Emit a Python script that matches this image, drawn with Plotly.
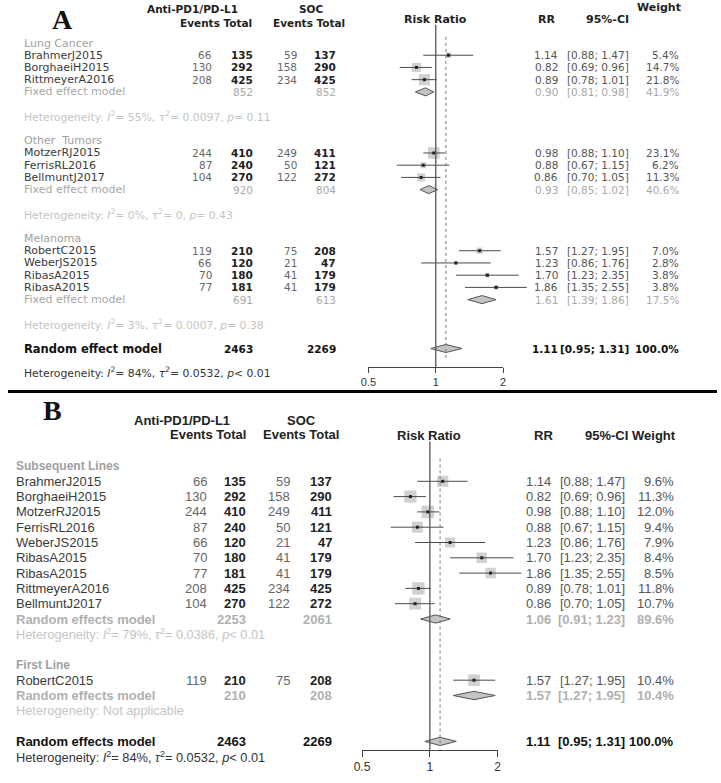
import math
import plotly.graph_objects as go

W, H = 721, 783

# ---------------- Panel A data ----------------
groupsA = ["Lung Cancer", "Other  Tumors", "Melanoma"]
studiesA = [["BrahmerJ2015", "BorghaeiH2015", "RittmeyerA2016"],
            ["MotzerRJ2015", "FerrisRL2016", "BellmuntJ2017"],
            ["RobertC2015", "WeberJS2015", "RibasA2015", "RibasA2015"]]
evTA = [[66, 130, 208], [244, 87, 104], [119, 66, 70, 77]]
totTA = [[135, 292, 425], [410, 240, 270], [210, 120, 180, 181]]
evCA = [[59, 158, 234], [249, 50, 122], [75, 21, 41, 41]]
totCA = [[137, 290, 425], [411, 121, 272], [208, 47, 179, 179]]
rrA = [[1.14, 0.82, 0.89], [0.98, 0.88, 0.86], [1.57, 1.23, 1.70, 1.86]]
loA = [[0.88, 0.69, 0.78], [0.88, 0.67, 0.70], [1.27, 0.86, 1.23, 1.35]]
hiA = [[1.47, 0.96, 1.01], [1.10, 1.15, 1.05], [1.95, 1.76, 2.35, 2.55]]
wA = [[5.4, 14.7, 21.8], [23.1, 6.2, 11.3], [7.0, 2.8, 3.8, 3.8]]
subRRA = [0.90, 0.93, 1.61]
subLoA = [0.81, 0.85, 1.39]
subHiA = [0.98, 1.02, 1.86]
subWA = [41.9, 40.6, 17.5]
subTotTA = [852, 920, 691]
subTotCA = [852, 804, 613]
subI2A = ["55%", "0%", "3%"]
subTau2A = ["0.0097", "0", "0.0007"]
subPA = ["= 0.11", "= 0.43", "= 0.38"]
overallA = dict(label="Random effect model", rr=1.11, lo=0.95, hi=1.31, w=100.0,
                totT=2463, totC=2269, i2="84%", tau2="0.0532", p="< 0.01")

# ---------------- Panel B data ----------------
groupsB = ["Subsequent Lines", "First Line"]
studiesB = [["BrahmerJ2015", "BorghaeiH2015", "MotzerRJ2015", "FerrisRL2016", "WeberJS2015",
             "RibasA2015", "RibasA2015", "RittmeyerA2016", "BellmuntJ2017"],
            ["RobertC2015"]]
evTB = [[66, 130, 244, 87, 66, 70, 77, 208, 104], [119]]
totTB = [[135, 292, 410, 240, 120, 180, 181, 425, 270], [210]]
evCB = [[59, 158, 249, 50, 21, 41, 41, 234, 122], [75]]
totCB = [[137, 290, 411, 121, 47, 179, 179, 425, 272], [208]]
rrB = [[1.14, 0.82, 0.98, 0.88, 1.23, 1.70, 1.86, 0.89, 0.86], [1.57]]
loB = [[0.88, 0.69, 0.88, 0.67, 0.86, 1.23, 1.35, 0.78, 0.70], [1.27]]
hiB = [[1.47, 0.96, 1.10, 1.15, 1.76, 2.35, 2.55, 1.01, 1.05], [1.95]]
wB = [[9.6, 11.3, 12.0, 9.4, 7.9, 8.4, 8.5, 11.8, 10.7], [10.4]]
subRRB = [1.06, 1.57]
subLoB = [0.91, 1.27]
subHiB = [1.23, 1.95]
subWB = [89.6, 10.4]
subTotTB = [2253, 210]
subTotCB = [2061, 208]
subHetB = ["Heterogeneity: <i>I</i><sup>2</sup>= 79%, <i>τ</i><sup>2</sup>= 0.0386, <i>p</i>< 0.01",
           "Heterogeneity: Not applicable"]
overallB = dict(label="Random effects model", rr=1.11, lo=0.95, hi=1.31, w=100.0,
                totT=2463, totC=2269, i2="84%", tau2="0.0532", p="< 0.01")

tick_vals = [0.5, 1, 2]
tick_text = ["0.5", "1", "2"]

# ---------------- layout geometry ----------------
SANS = "Liberation Sans, Arial, sans-serif"
WIDE = "DejaVu Sans, sans-serif"
SERIF = "Liberation Serif, Times New Roman, serif"

A = dict(top=43, step=12.22, one=435.0, ppd=227.6, axis_y=367, xref="x", yref="y",
         axref="x3", name_x=15, evT=208, totT=250, evC=295, totC=335,
         rr=560, ci=633, wt=683, name_size=11, num_size=10.5, k=2.4, dh=0.33,
         name_fam=WIDE, num_fam=WIDE, grp_size=11, grp_fam=WIDE, mod_size=11,
         mod_fam=WIDE, het_size=10.8, het_fam=WIDE, ov_size=11.5)
B = dict(top=466, step=15.3, one=429.0, ppd=229.2, axis_y=750, xref="x2", yref="y2",
         axref="x4", name_x=7, evT=203, totT=243, evC=288, totC=330,
         rr=553, ci=628, wt=678, name_size=13, num_size=13, k=3.6, dh=0.27,
         name_fam=SANS, num_fam=SANS, grp_size=12, grp_fam=SANS, mod_size=13,
         mod_fam=SANS, het_size=12.8, het_fam=SANS, ov_size=13)

fig = go.Figure()


def txt(x, y, yref, s, anchor="left", size=11, color="#333", family=SANS, bold=False):
    if bold:
        s = "<b>" + s + "</b>"
    fig.add_annotation(x=x / W, xref="paper", y=y, yref=yref, text=s, xanchor=anchor,
                       yanchor="middle", showarrow=False, borderpad=0,
                       font=dict(size=size, color=color, family=family))


def ci_str(lo, hi):
    return "[%.2f; %.2f]" % (lo, hi)


def diamond(P, row, rr, lo, hi, fill="#c4c4c4"):
    fig.add_trace(go.Scatter(x=[lo, rr, hi, rr, lo], y=[row, row - P["dh"], row, row + P["dh"], row],
                             xaxis=P["xref"], yaxis=P["yref"], mode="lines", fill="toself",
                             fillcolor=fill, line=dict(color="#555", width=1),
                             hoverinfo="skip", showlegend=False))


def studies(P, rows, rr, lo, hi, w):
    fig.add_trace(go.Scatter(x=rr, y=rows, xaxis=P["xref"], yaxis=P["yref"], mode="markers",
                             marker=dict(symbol="square", size=[P["k"] * math.sqrt(v) for v in w],
                                         color="#bdbdbd", line=dict(width=0)),
                             hoverinfo="skip", showlegend=False))
    xs, ys = [], []
    for r, a, b in zip(rows, lo, hi):
        xs += [a, b, None]
        ys += [r, r, None]
    fig.add_trace(go.Scatter(x=xs, y=ys, xaxis=P["xref"], yaxis=P["yref"], mode="lines",
                             line=dict(color="#4a4a4a", width=1), hoverinfo="skip", showlegend=False))
    fig.add_trace(go.Scatter(x=rr, y=rows, xaxis=P["xref"], yaxis=P["yref"], mode="markers",
                             marker=dict(symbol="square", size=3, color="#222"),
                             hoverinfo="skip", showlegend=False))


def row_text(P, row, name, evT, totT, evC, totC, rr, lo, hi, w):
    s, f, y, yr = P["num_size"], P["num_fam"], row, P["yref"]
    txt(P["name_x"], y, yr, name, size=P["name_size"], color="#3a3a3a", family=P["name_fam"])
    txt(P["evT"], y, yr, str(evT), "right", s, "#666", f)
    txt(P["totT"], y, yr, str(totT), "right", s, "#222", f, True)
    txt(P["evC"], y, yr, str(evC), "right", s, "#666", f)
    txt(P["totC"], y, yr, str(totC), "right", s, "#222", f, True)
    txt(P["rr"], y, yr, "%.2f" % rr, "right", s, "#555", f)
    txt(P["ci"], y, yr, ci_str(lo, hi), "right", s, "#555", f)
    txt(P["wt"], y, yr, "%.1f%%" % w, "right", s, "#555", f)


def model_text(P, row, label, totT, totC, rr, lo, hi, w, color, bold, lsize):
    s, f, y, yr = P["num_size"], P["num_fam"], row, P["yref"]
    txt(P["name_x"], y, yr, label, size=lsize, color=color, family=P["mod_fam"], bold=bold)
    txt(P["totT"], y, yr, str(totT), "right", s, color, f, bold)
    txt(P["totC"], y, yr, str(totC), "right", s, color, f, bold)
    txt(P["rr"], y, yr, "%.2f" % rr, "right", s, color, f, bold)
    txt(P["ci"], y, yr, ci_str(lo, hi), "right", s, color, f, bold)
    txt(P["wt"], y, yr, "%.1f%%" % w, "right", s, color, f, bold)


def het(i2, tau2, p):
    return ("Heterogeneity: <i>I</i><sup>2</sup>= %s, <i>τ</i><sup>2</sup>= %s, <i>p</i>%s"
            % (i2, tau2, p))


# ---------------- Panel A ----------------
row = 0
for g in range(len(groupsA)):
    txt(A["name_x"], row, "y", groupsA[g], size=A["grp_size"], color="#a0a0a0", family=A["grp_fam"])
    rows = []
    for i in range(len(studiesA[g])):
        row += 1
        rows.append(row)
        row_text(A, row, studiesA[g][i], evTA[g][i], totTA[g][i], evCA[g][i], totCA[g][i],
                 rrA[g][i], loA[g][i], hiA[g][i], wA[g][i])
    studies(A, rows, rrA[g], loA[g], hiA[g], wA[g])
    row += 1
    model_text(A, row, "Fixed effect model", subTotTA[g], subTotCA[g], subRRA[g], subLoA[g],
               subHiA[g], subWA[g], "#a8a8a8", False, A["mod_size"])
    diamond(A, row, subRRA[g], subLoA[g], subHiA[g])
    row += 2
    txt(A["name_x"], row, "y", het(subI2A[g], subTau2A[g], subPA[g]), size=A["het_size"],
        color="#c4c4c4", family=A["het_fam"])
    row += 2
oA = overallA
model_text(A, row, oA["label"], oA["totT"], oA["totC"], oA["rr"], oA["lo"], oA["hi"], oA["w"],
           "#111", True, A["ov_size"])
diamond(A, row, oA["rr"], oA["lo"], oA["hi"])
last_rowA = row
row += 2
txt(A["name_x"], row, "y", het(oA["i2"], oA["tau2"], oA["p"]), size=A["het_size"], color="#333",
    family=A["het_fam"])

# ---------------- Panel B ----------------
row = 0
for g in range(len(groupsB)):
    txt(B["name_x"], row, "y2", groupsB[g], size=B["grp_size"], color="#a0a0a0", family=B["grp_fam"],
        bold=True)
    rows = []
    for i in range(len(studiesB[g])):
        row += 1
        rows.append(row)
        row_text(B, row, studiesB[g][i], evTB[g][i], totTB[g][i], evCB[g][i], totCB[g][i],
                 rrB[g][i], loB[g][i], hiB[g][i], wB[g][i])
    studies(B, rows, rrB[g], loB[g], hiB[g], wB[g])
    row += 1
    model_text(B, row, "Random effects model", subTotTB[g], subTotCB[g], subRRB[g], subLoB[g],
               subHiB[g], subWB[g], "#b0b0b0", True, B["mod_size"])
    diamond(B, row, subRRB[g], subLoB[g], subHiB[g])
    row += 1
    txt(B["name_x"], row, "y2", subHetB[g], size=B["het_size"], color="#c4c4c4", family=B["het_fam"])
    row += 2
oB = overallB
model_text(B, row, oB["label"], oB["totT"], oB["totC"], oB["rr"], oB["lo"], oB["hi"], oB["w"],
           "#111", True, B["ov_size"])
diamond(B, row, oB["rr"], oB["lo"], oB["hi"])
last_rowB = row
row += 1
txt(B["name_x"], row, "y2", het(oB["i2"], oB["tau2"], oB["p"]), size=B["het_size"], color="#333",
    family=B["het_fam"])


# ---------------- reference lines ----------------
def refs(P, top_row, dot_top, dot_bottom, rr_over):
    bottom = (P["axis_y"] - P["top"]) / P["step"]
    fig.add_trace(go.Scatter(x=[1, 1], y=[top_row, bottom], xaxis=P["xref"], yaxis=P["yref"],
                             mode="lines", line=dict(color="#555", width=1.3),
                             hoverinfo="skip", showlegend=False))
    fig.add_trace(go.Scatter(x=[rr_over, rr_over], y=[dot_top, dot_bottom], xaxis=P["xref"],
                             yaxis=P["yref"], mode="lines",
                             line=dict(color="#777", width=1, dash="dot"),
                             hoverinfo="skip", showlegend=False))
    # invisible trace to create the scale-axis subplot
    fig.add_trace(go.Scatter(x=[1], y=[0], xaxis=P["axref"], yaxis=P["yref"], mode="markers",
                             marker=dict(opacity=0), hoverinfo="skip", showlegend=False))


refs(A, -1.5, -0.5, last_rowA + 1.0, oA["rr"])
refs(B, -1.6, -0.5, last_rowB + 0.2, oB["rr"])


# ---------------- headers ----------------
def hdr(x, y, s, size, family=SANS, anchor="center"):
    fig.add_annotation(x=x / W, xref="paper", y=1 - y / H, yref="paper", text="<b>" + s + "</b>",
                       xanchor=anchor, yanchor="middle", showarrow=False, borderpad=0,
                       font=dict(size=size, color="#222", family=family))


fig.add_annotation(x=55 / W, xref="paper", y=1 - 20 / H, yref="paper", text="<b>A</b>",
                   xanchor="center", yanchor="middle", showarrow=False, borderpad=0,
                   font=dict(size=28, color="#111", family=SERIF))
hdr(188, 9, "Anti-PD1/PD-L1", 10.5, WIDE)
hdr(212, 23, "Events Total", 10.5, WIDE)
hdr(308, 9, "SOC", 10.5, WIDE)
hdr(306, 23, "Events Total", 10.5, WIDE)
hdr(435, 19, "Risk Ratio", 11, WIDE)
hdr(548, 19, "RR", 11, WIDE)
hdr(610, 19, "95%-CI", 11, WIDE)
hdr(662, 7, "Weight", 11, WIDE)

fig.add_annotation(x=45 / W, xref="paper", y=1 - 410 / H, yref="paper", text="<b>B</b>",
                   xanchor="center", yanchor="middle", showarrow=False, borderpad=0,
                   font=dict(size=28, color="#111", family=SERIF))
hdr(177, 420, "Anti-PD1/PD-L1", 13)
hdr(203, 434, "Events Total", 13)
hdr(298, 420, "SOC", 13)
hdr(298, 434, "Events Total", 13)
hdr(428, 435, "Risk Ratio", 13)
hdr(545, 435, "RR", 13)
hdr(609, 435, "95%-CI", 13)
hdr(657, 435, "Weight", 13)

# separator line between the panels
fig.add_shape(type="line", xref="paper", yref="paper", x0=0, x1=1, y0=1 - 391.5 / H,
              y1=1 - 391.5 / H, line=dict(color="#000", width=3))


# ---------------- axes ----------------
def data_axes(P):
    lo = (0 - P["one"]) / P["ppd"]
    hi = (W - P["one"]) / P["ppd"]
    xa = dict(domain=[0, 1], type="log", range=[lo, hi], visible=False, fixedrange=True)
    ya = dict(domain=[0, 1], range=[(H - P["top"]) / P["step"], -P["top"] / P["step"]],
              visible=False, fixedrange=True)
    return xa, ya


def scale_axis(P, size, tlen):
    x0 = P["one"] + P["ppd"] * math.log10(tick_vals[0])
    x1 = P["one"] + P["ppd"] * math.log10(tick_vals[-1])
    return dict(domain=[x0 / W, x1 / W], type="log",
                range=[math.log10(tick_vals[0]) - 1e-6, math.log10(tick_vals[-1]) + 1e-6],
                anchor="free", position=1 - P["axis_y"] / H, showline=True, linecolor="#444",
                linewidth=1, ticks="outside", ticklen=tlen, tickcolor="#444", tickwidth=1,
                tickvals=tick_vals, ticktext=tick_text, showgrid=False, zeroline=False,
                tickfont=dict(size=size, color="#333", family=SANS), fixedrange=True)


xa1, ya1 = data_axes(A)
xa2, ya2 = data_axes(B)
xa2["anchor"] = "y2"
ya2["anchor"] = "x2"

fig.update_layout(
    width=W, height=H, margin=dict(l=0, r=0, t=0, b=0),
    paper_bgcolor="white", plot_bgcolor="rgba(0,0,0,0)", showlegend=False,
    xaxis=xa1, yaxis=ya1, xaxis2=xa2, yaxis2=ya2,
    xaxis3=scale_axis(A, 11, 5), xaxis4=scale_axis(B, 12, 6),
)

fig.write_html("out.html", config={"displayModeBar": False},
               post_script="document.body.style.margin='0';document.body.style.overflow='hidden';")
